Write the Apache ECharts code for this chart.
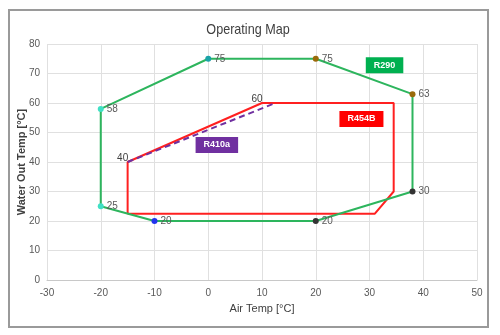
<!DOCTYPE html>
<html>
<head>
<meta charset="utf-8">
<script src="https://cdn.jsdelivr.net/npm/echarts@6/dist/echarts.min.js"></script>
<style>
  html, body { margin: 0; padding: 0; background: #fff; }
  #chart { width: 500px; height: 335px; }
</style>
</head>
<body>
<div id="chart"></div>
<script>
// Operating envelopes: air temperature vs. leaving water temperature
const xTicks = [-30, -20, -10, 0, 10, 20, 30, 40, 50];
const yTicks = [0, 10, 20, 30, 40, 50, 60, 70, 80];

// R290 envelope corners (closed polygon)
const r290Air   = [-20, -20, 0, 20, 38, 38, 20, -10];
const r290Water = [25, 58, 75, 75, 63, 30, 20, 20];

// R454B envelope corners (closed polygon); only two corners carry labels
const r454bAir   = [-15, -15, 10, 34.5, 34.5, 31];
const r454bWater = [22.5, 40, 60, 60, 30, 22.5];
const r454bLabelled = [false, true, true, false, false, false];

// R410a boundary segment
const r410aAir   = [-15, 12.5];
const r410aWater = [40, 60];

// Refrigerant tags placed in data space
const tagNames = ['R290', 'R454B', 'R410a'];
const tagAir   = [32.8, 28.5, 1.6];
const tagWater = [72.8, 54.6, 45.8];

const FONT = '"Liberation Sans", Arial, sans-serif';
const markerColors = ['#3fe0c5', '#3fe0c5', '#1aa3a8', '#9a6a0a', '#9a6a0a', '#333333', '#333333', '#2233ee'];
const tagColors = ['#00b050', '#ff0000', '#7030a0'];

const r290Data = r290Air.map((x, i) => ({
  value: [x, r290Water[i]],
  itemStyle: { color: markerColors[i] },
  label: { show: true, formatter: String(r290Water[i]) }
}));
r290Data.push({ value: [r290Air[0], r290Water[0]], symbol: 'none', label: { show: false } });

const r454bData = r454bAir.map((x, i) => ({
  value: [x, r454bWater[i]],
  label: { show: r454bLabelled[i], formatter: String(r454bWater[i]) }
}));
r454bData.push({ value: [r454bAir[0], r454bWater[0]], label: { show: false } });

const tagSeries = tagNames.map((name, i) => ({
  type: 'scatter',
  name: name + ' tag',
  symbolSize: 0,
  silent: true,
  z: 10,
  itemStyle: { opacity: 1 },
  data: [[tagAir[i], tagWater[i]]],
  label: {
    show: true,
    position: 'inside',
    formatter: name,
    color: '#fff',
    fontFamily: FONT,
    fontSize: 9,
    fontWeight: 'bold',
    backgroundColor: tagColors[i],
    padding: [4, 8, 3, 8]
  }
}));

const chart = echarts.init(document.getElementById('chart'), null, { renderer: 'canvas' });
chart.setOption({
  animation: false,
  backgroundColor: '#fff',
  graphic: [
    {
      type: 'rect',
      shape: { x: 9, y: 10, width: 479, height: 317 },
      style: { fill: 'none', stroke: '#9a9a9a', lineWidth: 2 },
      z: -1
    },
    {
      type: 'text',
      x: 248, y: 30,
      scaleX: 0.84,
      style: {
        text: 'Operating Map',
        align: 'center', verticalAlign: 'middle',
        font: '15px "Liberation Sans", Arial, sans-serif',
        fill: '#404040'
      }
    }
  ],
  grid: { left: 47, right: 23, top: 44, bottom: 55 },
  xAxis: {
    type: 'value',
    min: xTicks[0], max: xTicks[xTicks.length - 1], interval: 10,
    name: 'Air Temp [°C]', nameLocation: 'middle', nameGap: 23,
    nameMoveOverlap: false,
    nameTextStyle: { fontFamily: FONT, fontSize: 11, color: '#404040' },
    axisLine: { show: true, lineStyle: { color: '#c8c8c8' } },
    axisTick: { show: false },
    axisLabel: { fontFamily: FONT, fontSize: 10, color: '#595959', margin: 8 },
    splitLine: { show: true, lineStyle: { color: '#e0e0e0' } }
  },
  yAxis: {
    type: 'value',
    min: yTicks[0], max: yTicks[yTicks.length - 1], interval: 10,
    name: 'Water Out Temp [°C]', nameLocation: 'middle', nameGap: 20,
    nameMoveOverlap: false,
    nameTextStyle: { fontFamily: FONT, fontSize: 11, fontWeight: 'bold', color: '#404040' },
    axisLine: { show: false },
    axisTick: { show: false },
    axisLabel: { fontFamily: FONT, fontSize: 10, color: '#595959', margin: 7 },
    splitLine: { show: true, lineStyle: { color: '#e0e0e0' } }
  },
  series: [
    {
      type: 'line', name: 'R454B',
      data: r454bData,
      symbol: 'circle', symbolSize: 0, showAllSymbol: true,
      itemStyle: { color: '#ff2020', opacity: 0 },
      lineStyle: { color: '#ff2020', width: 2 },
      label: { position: 'top', distance: 1, offset: [-5, 2], fontFamily: FONT, fontSize: 10, color: '#404040', opacity: 1 },
      z: 3
    },
    {
      type: 'line', name: 'R410a',
      data: r410aAir.map((x, i) => [x, r410aWater[i]]),
      symbol: 'none',
      lineStyle: { color: '#7030a0', width: 2, type: [6, 4] },
      z: 4
    },
    {
      type: 'line', name: 'R290',
      data: r290Data,
      symbol: 'circle', symbolSize: 6,
      showAllSymbol: true,
      lineStyle: { color: '#2db55d', width: 2 },
      label: { position: 'right', distance: 3, fontFamily: FONT, fontSize: 10, color: '#595959' },
      z: 5
    },
    ...tagSeries
  ]
});
</script>
</body>
</html>
